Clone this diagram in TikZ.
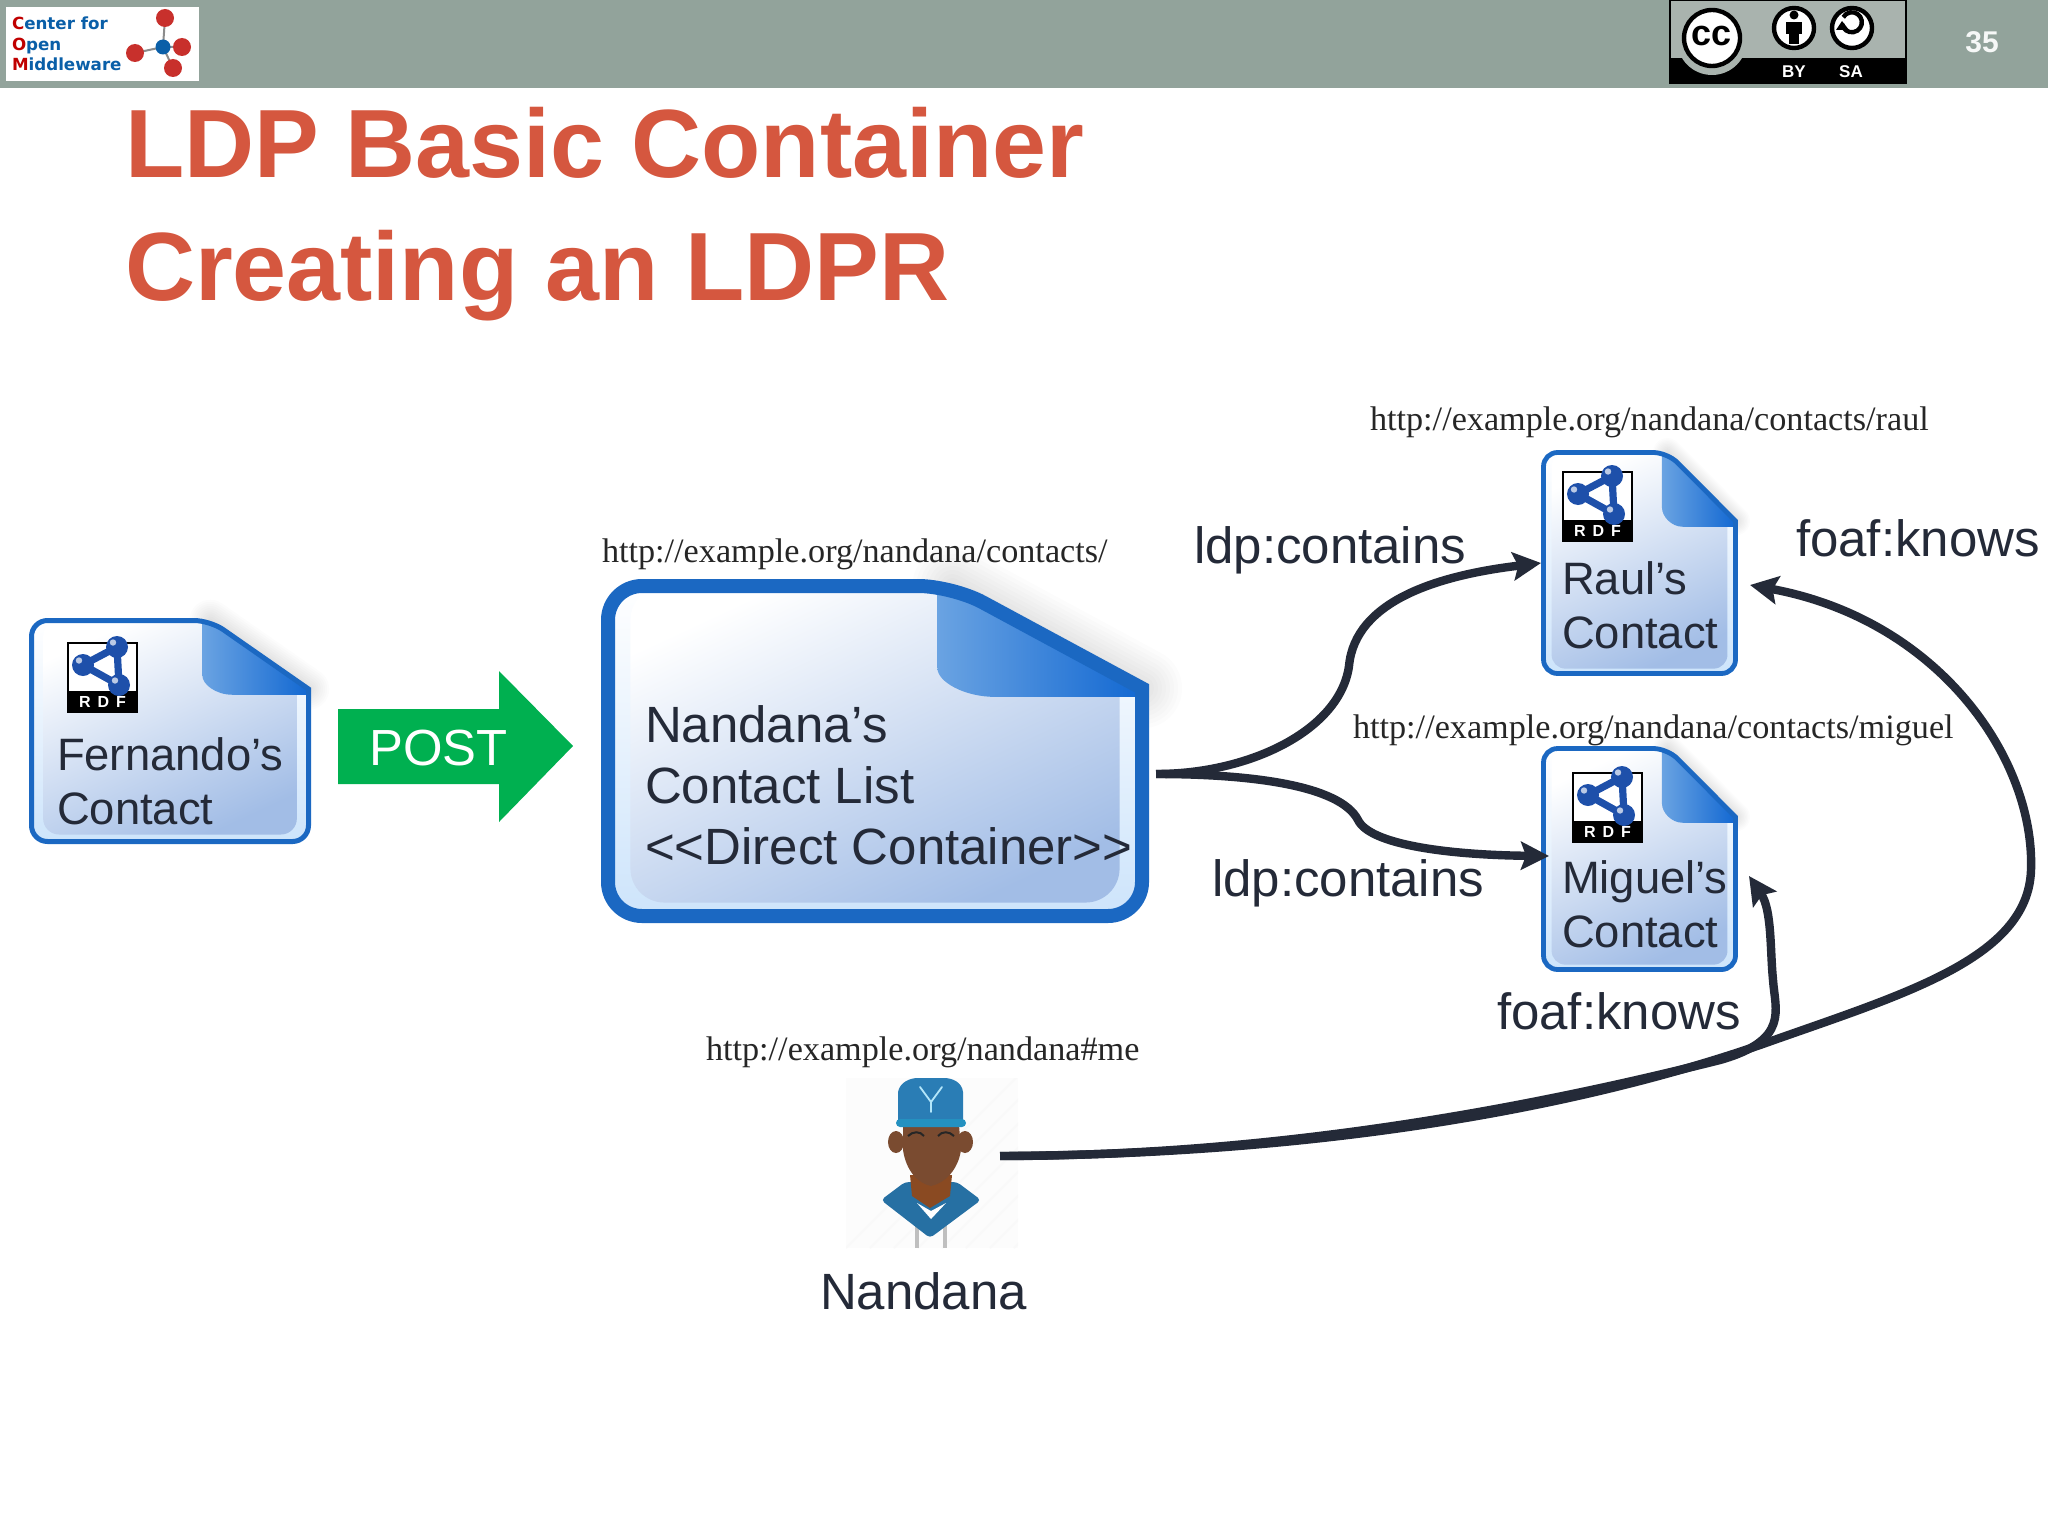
\documentclass[tikz,border=0pt]{standalone}
\usepackage{fontspec}
\setmainfont{Liberation Sans}
\newfontfamily\serifurl{Liberation Serif}
\newfontfamily\logofont{DejaVu Sans}
\usetikzlibrary{arrows.meta,calc}
\definecolor{barcol}{HTML}{92A39B}
\definecolor{inkcol}{HTML}{242A38}
\definecolor{titlecol}{HTML}{D5573F}
\definecolor{docblue}{HTML}{1B68C2}
\definecolor{docband}{HTML}{CDE4FB}
\definecolor{docdeep}{HTML}{A2BDE6}
\definecolor{foldlight}{HTML}{6AA3E2}
\definecolor{folddeep}{HTML}{1268D2}
\definecolor{rdfblue}{HTML}{1E50AA}
\definecolor{postgreen}{HTML}{00B050}
\definecolor{ccbg}{HTML}{A9B3AE}
\definecolor{logored}{HTML}{C00000}
\definecolor{logoblue}{HTML}{0A5FA8}
\definecolor{ballred}{HTML}{C8302C}
\definecolor{capblue}{HTML}{2A7DB5}
\definecolor{skin}{HTML}{7A4B30}
\definecolor{beard}{HTML}{8A4A22}
\tikzset{
  x=0.5pt,y=-0.5pt,
  label44/.style={anchor=base west,inner sep=0pt,outer sep=0pt,text=inkcol,align=left,font=\fontsize{22.7}{26.9}\selectfont},
  label50/.style={anchor=base west,inner sep=0pt,outer sep=0pt,text=inkcol,align=left,font=\fontsize{25.5}{30.6}\selectfont},
  urltext/.style={anchor=base west,inner sep=0pt,outer sep=0pt,text=black!85,font=\serifurl\fontsize{17.1}{20}\selectfont},
  titletext/.style={anchor=base west,inner sep=0pt,outer sep=0pt,text=titlecol,align=left,font=\bfseries\fontsize{48.5}{61.5}\selectfont},
  docnode/.style={anchor=north west,inner sep=0pt,outer sep=0pt},
  linkline/.style={draw=inkcol,line width=4.2pt,-{Stealth[length=14pt,width=14pt,inset=2.5pt]}},
}
% #1 x0, #2 y0, #3 w, #4 h, #5 border width in pt, #6 corner radius in pt
\newcommand{\docfile}[6]{%
  \pgfmathsetmacro{\xa}{#1}\pgfmathsetmacro{\ya}{#2}
  \pgfmathsetmacro{\xb}{#1+#3}\pgfmathsetmacro{\yb}{#2+#4}
  \pgfmathsetmacro{\fx}{#1+.645*#3}\pgfmathsetmacro{\fy}{#2+.31*#4}
  \pgfmathsetmacro{\fix}{#1+.617*#3}\pgfmathsetmacro{\fcy}{#2+.25*#4}
  \pgfmathsetmacro{\fcx}{#1+.725*#3}\pgfmathsetmacro{\fby}{#2+.336*#4}
  \pgfmathsetmacro{\ins}{.042*#3}
  \pgfmathsetmacro{\sha}{.0075*#3}
  \pgfmathsetmacro{\cxa}{\fcx-.55*(\fcx-\fix)}
  \pgfmathsetmacro{\cyb}{\fby-.55*(\fby-\fcy)}
  \foreach \i in {1,...,10}{
    \draw[black,opacity=.012,line width=\i*\sha pt,line cap=round] (\fx,\ya) -- (\xb,\fy);
  }
  \begin{scope}
    \clip[rounded corners=#6pt] (\xa,\ya) -- (\fx,\ya) [sharp corners] -- (\xb,\fy) [rounded corners=#6pt] -- (\xb,\yb) -- (\xa,\yb) -- cycle;
    \shade[top color=white,bottom color=docband] (\xa,\ya) rectangle (\xb,\yb);
    \shade[rounded corners=#6pt,top color=white,bottom color=docdeep,shading angle=25]
      (\xa+\ins,\ya) rectangle (\xb-\ins,\yb-\ins*0.6);
    \shade[left color=foldlight,right color=folddeep]
      (\fix,\ya) -- (\fx,\ya) -- (\xb,\fy) -- (\xb,\fby) -- (\fcx,\fby)
      .. controls (\cxa,\fby) and (\fix,\cyb) .. (\fix,\fcy) -- cycle;
  \end{scope}
  \draw[docblue,line width=#5pt,rounded corners=#6pt] (\xa,\ya) -- (\fx,\ya) [sharp corners] -- (\xb,\fy) [rounded corners=#6pt] -- (\xb,\yb) -- (\xa,\yb) -- cycle;
}
% #1 x, #2 y of the 69px square
\newcommand{\rdflogo}[3]{%
  \begin{scope}[shift={(#1,#2)}]
    \fill[white] (0,0) rectangle (69,50);
    \draw[black,line width=.7pt] (0,0) rectangle (69,69);
    \fill[black] (0,48) rectangle (69,69);
    \draw[rdfblue,line width=3.6pt,line join=round] (49,4) -- (15,22) -- (51,42) -- (49,4);
    \foreach \a/\b in {49/4,15/22,51/42}{
      \fill[rdfblue] (\a,\b) circle[radius=11];
      \fill[white!70!rdfblue] (\a-4,\b-4.5) circle[radius=3.2];
    }
    \node[inner sep=0pt,text=white] (#3) at (34.5,58.5) {\bfseries\fontsize{8}{8}\selectfont R\hspace{3.5pt}D\hspace{3.5pt}F};
  \end{scope}
}
\begin{document}
\begin{tikzpicture}
\useasboundingbox (0,0) rectangle (2048,1536);
\fill[white] (0,0) rectangle (2048,1536);
% top bar
\fill[barcol] (0,0) rectangle (2048,88);
\fill[white] (6,7) rectangle (199,81);
\node[anchor=base west,inner sep=0pt,outer sep=0pt,align=left,text=logoblue,font=\logofont\bfseries\fontsize{8.35}{10.3}\selectfont] (comtext) at (12,71)
  {\textcolor{logored}{C}enter for\\\textcolor{logored}{O}pen\\\textcolor{logored}{M}iddleware};
\draw[black!45,line width=1pt] (163,47) -- (165,18) (163,47) -- (135,53) (163,47) -- (182,47) (163,47) -- (173,68);
\foreach \a/\b in {165/18,135/53,182/47,173/68}{\fill[ballred] (\a,\b) circle[radius=9];}
\fill[logoblue] (163,47) circle[radius=7.5];
% CC badge
\fill[ccbg] (1670,0) rectangle (1906,83);
\draw[black,line width=.8pt] (1670,0) rectangle (1906,83);
\fill[black] (1670,58) rectangle (1906,83);
\fill[ccbg] (1712,40) circle[radius=35];
\fill[white] (1712,38) circle[radius=29];
\draw[black,line width=2.2pt] (1712,38) circle[radius=28];
\node[inner sep=0pt,font=\bfseries\fontsize{18}{18}\selectfont] (cc) at (1711,36) {cc};
\fill[white] (1794,28) circle[radius=21];
\draw[black,line width=2.2pt] (1794,28) circle[radius=20];
\fill[black] (1794,15) circle[radius=4.5];
\fill[black] (1786,22) rectangle (1802,34);
\fill[black] (1789,34) rectangle (1799,44);
\fill[white] (1852,28) circle[radius=21];
\draw[black,line width=2.2pt] (1852,28) circle[radius=20];
\draw[black,line width=2.2pt] (1842,24) arc[start angle=170,end angle=-150,radius=10];
\fill[black] (1836,30) -- (1849,30) -- (1842,21) -- cycle;
\node[inner sep=0pt,text=white,font=\bfseries\fontsize{8.5}{9}\selectfont] (by) at (1794,72) {BY};
\node[inner sep=0pt,text=white,font=\bfseries\fontsize{8.5}{9}\selectfont] (sa) at (1851,72) {SA};
\node[inner sep=0pt,text=white!92!barcol,font=\bfseries\fontsize{15}{15}\selectfont] (pagenum) at (1982,42) {35};
% title
\node[titletext] (title) at (125,300) {LDP Basic Container\\Creating an LDPR};
% POST arrow
\fill[postgreen] (338,709) -- (499,709) -- (499,671) -- (573,746) -- (499,822) -- (499,784) -- (338,784) -- cycle;
\node[anchor=base west,inner sep=0pt,text=white,font=\fontsize{25.4}{30}\selectfont] (post) at (369,765) {POST};
% documents
\node[docnode,minimum width=141pt,minimum height=113pt] (fernando) at (29,618) {};
\node[docnode,minimum width=274pt,minimum height=172pt] (listdoc) at (601,579) {};
\node[docnode,minimum width=98.5pt,minimum height=113pt] (raul) at (1541,450) {};
\node[docnode,minimum width=98.5pt,minimum height=113pt] (miguel) at (1541,746) {};
\docfile{31.5}{620.5}{277}{221}{2.5}{8}
\docfile{608}{586}{534}{330}{7}{17}
\docfile{1543.5}{452.5}{192}{221}{2.4}{7}
\docfile{1543.5}{748.5}{192}{221}{2.4}{7}
\rdflogo{68}{643}{rdfa}
\rdflogo{1563}{472}{rdfb}
\rdflogo{1573}{773}{rdfc}
% text in documents
\node[label44] (fertxt) at (57,770) {Fernando’s};
\node[label44] (fertxtb) at (57,824) {Contact};
\node[label50] (listtxta) at (645,742) {Nandana’s};
\node[label50] (listtxtb) at (645,803) {Contact List};
\node[label50] (listtxtc) at (645,864) {<{}<Direct Container>{}>};
\node[label44] (raultxta) at (1562,594) {Raul’s};
\node[label44] (raultxtb) at (1562,648) {Contact};
\node[label44] (migtxta) at (1562,893) {Miguel’s};
\node[label44] (migtxtb) at (1562,947) {Contact};
% urls
\node[urltext] (urlraul) at (1370,430) {http://example.org/nandana/contacts/raul};
\node[urltext] (urllist) at (602,562) {http://example.org/nandana/contacts/};
\node[urltext] (urlmig) at (1353,738) {http://example.org/nandana/contacts/miguel};
\node[urltext] (urlme) at (706,1060) {http://example.org/nandana\#me};
% person
\node[anchor=north west,inner sep=0pt,outer sep=0pt,minimum width=77pt,minimum height=82pt] (person) at (846,1074) {};
\fill[black!1] (846,1078) rectangle (1018,1248);
\begin{scope}
  \clip (846,1078) rectangle (1018,1248);
  \foreach \k in {0,24,...,312}{\draw[black!2.5,line width=1pt] (846+\k,1248) -- (846+\k+174,1074);}
\end{scope}
\draw[black!25,line width=1.6pt] (917,1222) -- (917,1248) (945,1222) -- (945,1248);
\fill[capblue!90!black,rounded corners=2pt] (905,1182) -- (881,1200) -- (930,1238) -- (981,1200) -- (957,1182) -- cycle;
\fill[beard] (910,1175) -- (912,1196) -- (930,1208) -- (950,1196) -- (952,1175) -- cycle;
\fill[white] (917,1203) -- (931,1219) -- (946,1203) -- (931,1211) -- cycle;
\fill[skin] (896,1142) ellipse[x radius=8,y radius=11];
\fill[skin] (965,1142) ellipse[x radius=8,y radius=11];
\fill[skin] (903,1125) -- (959,1125) -- (961,1150) .. controls (958,1170) and (945,1183) .. (931,1186) .. controls (917,1183) and (906,1170) .. (903,1150) -- cycle;
\draw[black!85,line width=1pt] (908,1136) .. controls (913,1131) and (920,1131) .. (924,1136) (938,1136) .. controls (942,1131) and (949,1131) .. (954,1136);
\fill[capblue] (898,1124) -- (898,1092) .. controls (900,1082) and (910,1078) .. (918,1078) -- (944,1078) .. controls (952,1078) and (962,1082) .. (963,1092) -- (963,1124) -- cycle;
\fill[capblue!85!cyan,rounded corners=2pt] (896,1119) rectangle (966,1127);
\draw[cyan!30!white,line width=.9pt,line cap=round] (920,1087) -- (931,1102) -- (942,1087) (931,1102) -- (931,1112);
% labels
\node[label50] (contains1) at (1194,563) {ldp:contains};
\node[label50] (contains2) at (1212,896) {ldp:contains};
\node[label50] (knows1) at (1796,556) {foaf:knows};
\node[label50] (knows2) at (1497,1029) {foaf:knows};
\node[label50] (nandana) at (820,1309) {Nandana};
% connectors
\coordinate (listout) at ($(listdoc.east)+(7,23)$);
\coordinate (miguelin) at ($(miguel.west)+(8,-3)$);
\coordinate (raulfoaf) at ($(raul.east)+(12,22)$);
\coordinate (miguelfoaf) at ($(miguel.east)+(11,17)$);
\draw[linkline] (listout) .. controls (1250,774) and (1340,730) .. (1349,666) .. controls (1355,600) and (1440,575) .. (raul.west);
\draw[linkline] (listout) .. controls (1250,774) and (1340,785) .. (1358,820) .. controls (1370,845) and (1450,855) .. (miguelin);
\draw[linkline] (person.east) .. controls (1350,1154) and (1600,1100) .. (1760,1045) .. controls (1900,995) and (2028,960) .. (2031,870) .. controls (2035,760) and (1940,620) .. (raulfoaf);
\draw[linkline] (person.east) .. controls (1300,1156) and (1560,1100) .. (1720,1060) .. controls (1790,1040) and (1775,1010) .. (1773,980) .. controls (1770,950) and (1772,910) .. (miguelfoaf);
\end{tikzpicture}
\end{document}
